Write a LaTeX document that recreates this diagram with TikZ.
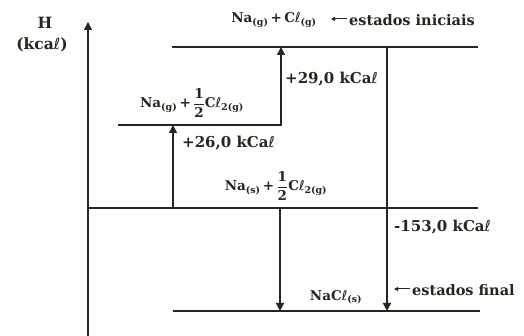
\documentclass[tikz,border=0pt]{standalone}
\usepackage{amsmath}
\usepackage{fontspec}
\setmainfont{DejaVu Serif}
\newfontfamily\ellf{DejaVu Sans}
\usetikzlibrary{arrows.meta}
\definecolor{ink}{RGB}{40,36,32}
\newcommand{\el}{{\ellf\mdseries ℓ}}
\newcommand{\hf}{\ensuremath{\genfrac{}{}{0.7pt}{0}{\text{1}}{\text{2}}}}
\newcommand{\subx}[1]{\ensuremath{_{\text{#1}}}}
\begin{document}
\begin{tikzpicture}[x=1pt,y=1pt,
  lvl/.style={draw=ink,line width=1.6pt},
  con/.style={draw=ink,line width=1.4pt},
  arr/.style={con,-{Triangle[length=8pt,width=8pt]}},
  sarr/.style={draw=ink,line width=1pt,-{Triangle[length=4pt,width=4pt]}},
  lbl/.style={inner sep=0pt,font=\bfseries\fontsize{13.5}{15}\selectfont,text=ink},
  elbl/.style={lbl,font=\bfseries\fontsize{15}{17}\selectfont},
  slbl/.style={lbl,font=\bfseries\fontsize{14.5}{16}\selectfont},
  albl/.style={lbl,font=\bfseries\fontsize{15.5}{17}\selectfont}]
\useasboundingbox (0,0) rectangle (524,336);
% axis
\coordinate (ax0) at (88,0);
\coordinate (ax1) at (88,314);
\draw[arr] (ax0) -- (ax1);
% levels
\coordinate (t1) at (172,289); \coordinate (t2) at (478,289);
\coordinate (m1) at (118,211); \coordinate (m2) at (282,211);
\coordinate (z1) at (88,128);  \coordinate (z2) at (478,128);
\coordinate (b1) at (173,25);  \coordinate (b2) at (480,25);
\draw[lvl] (t1) -- (t2);
\draw[lvl] (m1) -- (m2);
\draw[lvl] (z1) -- (z2);
\draw[lvl] (b1) -- (b2);
% transitions
\coordinate (a1s) at (173,128); \coordinate (a1e) at (173,211);
\coordinate (a2s) at (281,211); \coordinate (a2e) at (281,289);
\coordinate (a3s) at (280,128); \coordinate (a3e) at (280,25);
\coordinate (a4s) at (387,289); \coordinate (a4e) at (387,25);
\draw[arr] (a1s) -- (a1e);
\draw[arr] (a2s) -- (a2e);
\draw[arr] (a3s) -- (a3e);
\draw[arr] (a4s) -- (a4e);
% labels
\node[albl] (h) at (45,313) {H};
\node[albl] (u) at (42,291) {(kca\el)};
\node[lbl] (top) at (274,316) {Na\subx{(g)}\,+\,C\el\subx{(g)}};
\node[slbl,anchor=west] (ini) at (349,316) {estados iniciais};
\coordinate (ini0) at (347,317); \coordinate (ini1) at (331,317);
\draw[sarr] (ini0) -- (ini1);
\node[lbl] (mid) at (192,233) {Na\subx{(g)}\,+\,\hf C\el\subx{2(g)}};
\node[elbl,anchor=west] (e29) at (285,257) {+29,0 kCa\el};
\node[elbl,anchor=west] (e26) at (182,193) {+26,0 kCa\el};
\node[lbl] (zer) at (276,150) {Na\subx{(s)}\,+\,\hf C\el\subx{2(g)}};
\node[elbl,anchor=west] (e153) at (394,109) {-153,0 kCa\el};
\node[lbl] (bot) at (336,39) {NaC\el\subx{(s)}};
\node[slbl,anchor=west] (fin) at (412,46) {estados final};
\coordinate (fin0) at (410,47); \coordinate (fin1) at (394,47);
\draw[sarr] (fin0) -- (fin1);
\end{tikzpicture}
\end{document}
